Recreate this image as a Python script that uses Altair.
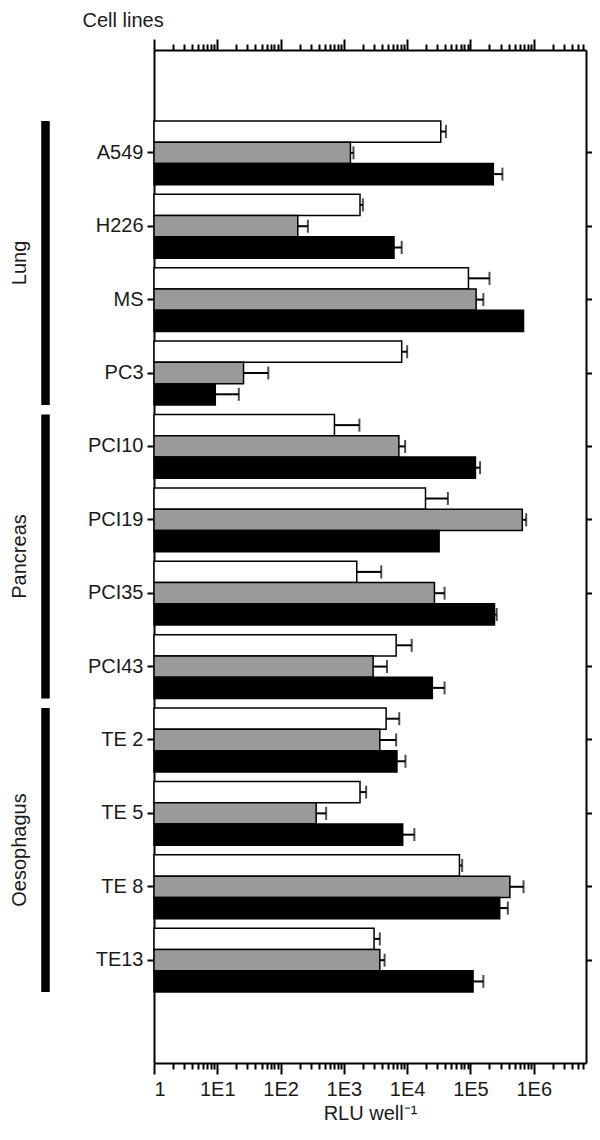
import altair as alt
import pandas as pd

# ---- data ----
cells = ["A549", "H226", "MS", "PC3", "PCI10", "PCI19", "PCI35", "PCI43",
         "TE 2", "TE 5", "TE 8", "TE13"]
series = ["open", "grey", "filled"]

open_vals = [3.4e4, 1.8e3, 9.3e4, 8.2e3, 710, 1.95e4, 1.6e3, 6.7e3, 4.65e3, 1.8e3, 6.7e4, 3.0e3]
open_err = [4.1e4, 2.0e3, 2.0e5, 1.0e4, 1.76e3, 4.4e4, 3.9e3, 1.18e4, 7.5e3, 2.25e3, 7.4e4, 3.7e3]
grey_vals = [1.27e3, 187, 1.23e5, 26, 7.4e3, 6.6e5, 2.7e4, 2.9e3, 3.7e3, 365, 4.2e5, 3.7e3]
grey_err = [1.42e3, 270, 1.6e5, 64, 9.3e3, 7.6e5, 3.9e4, 4.8e3, 6.7e3, 525, 6.9e5, 4.4e3]
filled_vals = [2.3e5, 6.2e3, 6.9e5, 9.3, 1.2e5, 3.2e4, 2.4e5, 2.5e4, 6.9e3, 8.5e3, 2.9e5, 1.1e5]
filled_err = [3.2e5, 8.2e3, None, 21.9, 1.42e5, None, 2.6e5, 3.9e4, 9.4e3, 1.3e4, 3.9e5, 1.6e5]

groups = ["Lung", "Pancreas", "Oesophagus"]
group_first = ["A549", "PCI10", "TE 2"]
group_last = ["PC3", "PCI43", "TE13"]
group_mid = ["H226", "PCI19", "TE 5"]

x_min = 1
x_max = 6.7e6
tick_vals = [k * 10 ** d for d in range(0, 7) for k in range(1, 10) if k * 10 ** d <= x_max]

# ---- tables ----
rows = []
for i, c in enumerate(cells):
    for s, vals, errs in ((series[0], open_vals, open_err),
                          (series[1], grey_vals, grey_err),
                          (series[2], filled_vals, filled_err)):
        rows.append({"cell": c, "series": s, "value": vals[i], "err": errs[i]})
df = pd.DataFrame(rows)
gdf = pd.DataFrame({"group": groups, "first": group_first, "last": group_last, "mid": group_mid})

FONT = "Liberation Sans"
TXT = "#1a1a1a"

major = "abs(log(datum.value)/LN10 - round(log(datum.value)/LN10)) < 0.001"
label_expr = f"{major} ? (datum.value == 1 ? '1' : '1E' + round(log(datum.value)/LN10)) : ''"
tick_size = {"expr": f"{major} ? 11 : 6"}

xscale = alt.Scale(type="log", domain=[x_min, x_max], nice=False)
yscale = alt.Scale(domain=cells, paddingInner=0.13, paddingOuter=0.966)
offscale = alt.Scale(domain=series, paddingInner=0, paddingOuter=0)

bars = alt.Chart(df).mark_bar(stroke="black", strokeWidth=1.5).encode(
    x=alt.X("value:Q", scale=xscale,
            axis=alt.Axis(orient="bottom", values=tick_vals, labelExpr=label_expr,
                          tickSize=tick_size, labelOverlap=False, labelPadding=5,
                          grid=False, title="RLU well\u207b\u00b9", titlePadding=4)),
    x2=alt.datum(x_min),
    y=alt.Y("cell:N", scale=yscale,
            axis=alt.Axis(orient="left", tickSize=7, labelPadding=4, grid=False,
                          title="Cell lines", titleAngle=0, titleAlign="left",
                          titleBaseline="middle", titleX=-72, titleY=-30)),
    yOffset=alt.YOffset("series:N", scale=offscale),
    fill=alt.Fill("series:N", scale=alt.Scale(domain=series, range=["white", "#9a9a9a", "black"]),
                  legend=None),
)

err_rules = alt.Chart(df).transform_filter("isValid(datum.err)").mark_rule(
    color="black", strokeWidth=2).encode(
    x=alt.X("value:Q", scale=xscale,
            axis=alt.Axis(orient="top", values=tick_vals, labels=False, tickSize=tick_size,
                          grid=False, title=None)),
    x2="err:Q",
    y=alt.Y("cell:N", scale=yscale,
            axis=alt.Axis(orient="right", labels=False, tickSize=6, grid=False, title=None)),
    yOffset=alt.YOffset("series:N", scale=offscale),
)

caps = alt.Chart(df).transform_filter("isValid(datum.err)").mark_tick(
    color="black", thickness=2, size=13).encode(
    x=alt.X("err:Q", scale=xscale, axis=None),
    y=alt.Y("cell:N", scale=yscale, axis=None),
    yOffset=alt.YOffset("series:N", scale=offscale),
)

grp_rules = alt.Chart(gdf).mark_rule(color="black", strokeWidth=8.5).encode(
    x=alt.value(-108.5),
    y=alt.Y("first:N", scale=yscale, axis=None, bandPosition=0),
    y2=alt.Y2("last:N", bandPosition=1),
)

grp_text = alt.Chart(gdf).mark_text(angle=270, fontSize=20, font=FONT, color=TXT,
                                    align="center", baseline="middle", dx=-4.75).encode(
    x=alt.value(-134),
    y=alt.Y("mid:N", scale=yscale, axis=None, bandPosition=1),
    text="group:N",
)

chart = alt.layer(bars, err_rules, caps, grp_rules, grp_text).resolve_axis(
    x="independent", y="independent"
).properties(
    width=432, height=1013,
    padding={"left": 146, "top": 42, "right": 6, "bottom": 65},
    autosize=alt.AutoSizeParams(type="none"),
).configure_view(stroke=None).configure_axis(
    domainColor="black", domainWidth=2, tickColor="black", tickWidth=2,
    labelFont=FONT, labelFontSize=20, labelColor=TXT,
    titleFont=FONT, titleFontSize=20, titleColor=TXT, titleFontWeight="normal",
)

chart.save("out.html", embed_options={"renderer": "svg", "actions": False})
